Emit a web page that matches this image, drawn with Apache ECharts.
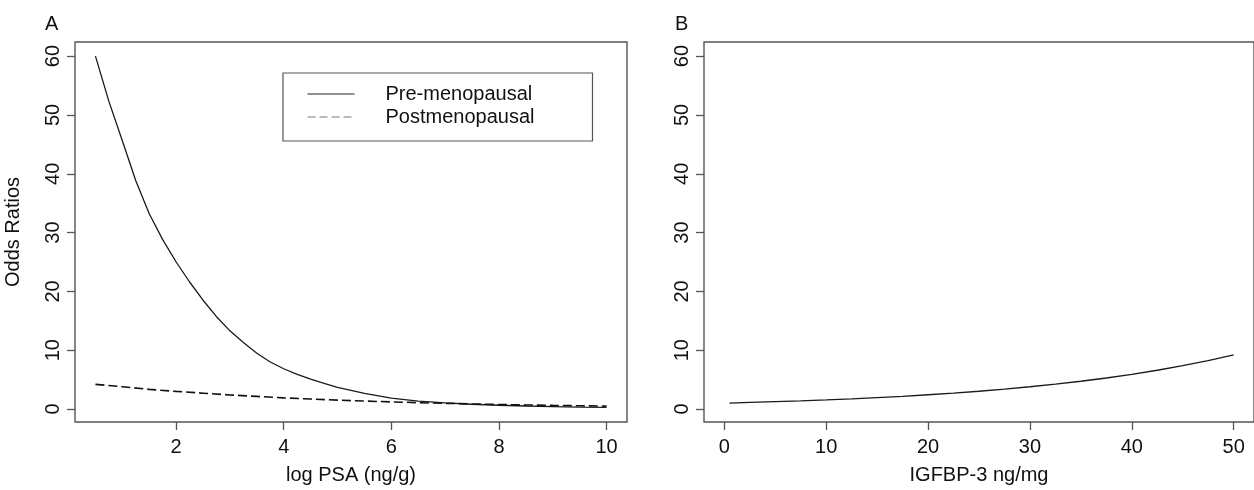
<!DOCTYPE html>
<html>
<head>
<meta charset="utf-8">
<title>Odds Ratios</title>
<script src="https://cdn.jsdelivr.net/npm/echarts@6/dist/echarts.min.js"></script>
<style>
  html, body { margin: 0; padding: 0; background: #fff; }
  #chart { width: 1254px; height: 490px; }
</style>
</head>
<body>
<div id="chart"></div>
<script>
// Panel A: odds ratios against log PSA, by menopausal status
const preX = [0.5, 0.75, 1, 1.25, 1.5, 1.75, 2, 2.25, 2.5, 2.75, 3, 3.25, 3.5, 3.75, 4, 4.25, 4.5, 4.75, 5, 5.5, 6, 6.5, 7, 7.5, 8, 8.5, 9, 9.5, 10];
const preOR = [60.0, 52.3, 45.6, 38.8, 33.2, 28.8, 25.0, 21.6, 18.5, 15.7, 13.3, 11.3, 9.5, 8.0, 6.85, 5.9, 5.1, 4.35, 3.7, 2.65, 1.85, 1.35, 1.05, 0.82, 0.65, 0.52, 0.42, 0.34, 0.28];
const postX = [0.5, 1, 1.5, 2, 2.5, 3, 3.5, 4, 4.5, 5, 5.5, 6, 6.5, 7, 7.5, 8, 8.5, 9, 9.5, 10];
const postOR = [4.2, 3.8, 3.35, 3.0, 2.7, 2.4, 2.15, 1.9, 1.7, 1.52, 1.36, 1.22, 1.09, 0.97, 0.87, 0.78, 0.70, 0.62, 0.56, 0.50];

// Panel B: odds ratios against IGFBP-3
const igfbpX = [0.5, 2.5, 5, 7.5, 10, 12.5, 15, 17.5, 20, 22.5, 25, 27.5, 30, 32.5, 35, 37.5, 40, 42.5, 45, 47.5, 50];
const igfbpOR = [1.02, 1.12, 1.25, 1.39, 1.56, 1.74, 1.95, 2.17, 2.43, 2.71, 3.03, 3.39, 3.79, 4.23, 4.73, 5.28, 5.9, 6.6, 7.37, 8.23, 9.2];

// Tick labels
const psaTicks = [2, 4, 6, 8, 10];
const igfbpTicks = [0, 10, 20, 30, 40, 50];
const orTicks = [0, 10, 20, 30, 40, 50, 60];

const seriesNames = ['Pre-menopausal', 'Postmenopausal'];

const FONT = '"Liberation Sans", Arial, Helvetica, sans-serif';
const INK = '#111';
const FRAME = '#555';
const FS = 20;

function pairs(xs, ys) { return xs.map((x, i) => [x, ys[i]]); }

function xAxisFor(idx, name, ticks, min, max) {
  return {
    type: 'value', gridIndex: idx, min: min, max: max,
    name: name, nameLocation: 'middle', nameGap: 43,
    nameTextStyle: { fontFamily: FONT, fontSize: FS, color: INK },
    axisLine: { show: false, onZero: false },
    splitLine: { show: false },
    axisTick: { show: true, inside: false, length: 8, customValues: ticks, lineStyle: { color: FRAME, width: 1.3 } },
    axisLabel: { show: true, margin: 15, customValues: ticks, fontFamily: FONT, fontSize: FS, color: INK }
  };
}

function yAxisFor(idx, name) {
  return {
    type: 'value', gridIndex: idx, min: -2.2, max: 62.4,
    name: name, nameLocation: 'middle', nameGap: 52,
    nameTextStyle: { fontFamily: FONT, fontSize: FS, color: INK },
    axisLine: { show: false, onZero: false },
    splitLine: { show: false },
    axisTick: { show: true, inside: false, length: 8, customValues: orTicks, lineStyle: { color: FRAME, width: 1.3 } },
    axisLabel: { show: true, rotate: 90, margin: 12, customValues: orTicks, fontFamily: FONT, fontSize: FS, color: INK }
  };
}

const chart = echarts.init(document.getElementById('chart'), null, { renderer: 'canvas' });

chart.setOption({
  backgroundColor: '#fff',
  animation: false,
  title: [
    { text: 'A', left: 40, top: 9, textStyle: { fontFamily: FONT, fontSize: FS, fontWeight: 'normal', color: INK } },
    { text: 'B', left: 670, top: 9, textStyle: { fontFamily: FONT, fontSize: FS, fontWeight: 'normal', color: INK } }
  ],
  grid: [
    { left: 75, top: 42, width: 552, height: 380, show: true, borderColor: FRAME, borderWidth: 1.4, backgroundColor: 'transparent' },
    { left: 704, top: 42, width: 552, height: 380, show: true, borderColor: FRAME, borderWidth: 1.4, backgroundColor: 'transparent' }
  ],
  xAxis: [
    xAxisFor(0, 'log PSA (ng/g)', psaTicks, 0.12, 10.38),
    xAxisFor(1, 'IGFBP-3 ng/mg', igfbpTicks, -2, 52)
  ],
  yAxis: [
    yAxisFor(0, 'Odds Ratios'),
    yAxisFor(1, '')
  ],
  legend: {
    data: [
      { name: seriesNames[0], lineStyle: { color: '#222', width: 1, type: 'solid' } },
      { name: seriesNames[1], lineStyle: { color: '#777', width: 1, type: [8, 4] } }
    ],
    orient: 'vertical',
    left: 283, top: 73,
    itemWidth: 47, itemHeight: 14, itemGap: 3,
    padding: [11, 58, 14, 24],
    borderColor: FRAME, borderWidth: 1.2,
    selectedMode: false,
    itemStyle: { color: 'transparent', borderWidth: 0, opacity: 0 },
    textStyle: { fontFamily: FONT, fontSize: FS, color: INK, lineHeight: 20, padding: [0, 0, 0, 26] }
  },
  series: [
    {
      name: seriesNames[0], type: 'line', xAxisIndex: 0, yAxisIndex: 0,
      data: pairs(preX, preOR), symbol: 'none', smooth: false,
      lineStyle: { color: '#1a1a1a', width: 1.3, type: 'solid' },
      itemStyle: { color: '#1a1a1a' }
    },
    {
      name: seriesNames[1], type: 'line', xAxisIndex: 0, yAxisIndex: 0,
      data: pairs(postX, postOR), symbol: 'none', smooth: false,
      lineStyle: { color: '#111', width: 1.6, type: [9, 4] },
      itemStyle: { color: '#777' }
    },
    {
      name: 'IGFBP-3', type: 'line', xAxisIndex: 1, yAxisIndex: 1,
      data: pairs(igfbpX, igfbpOR), symbol: 'none', smooth: false,
      lineStyle: { color: '#1a1a1a', width: 1.3, type: 'solid' }
    }
  ]
});
</script>
</body>
</html>
